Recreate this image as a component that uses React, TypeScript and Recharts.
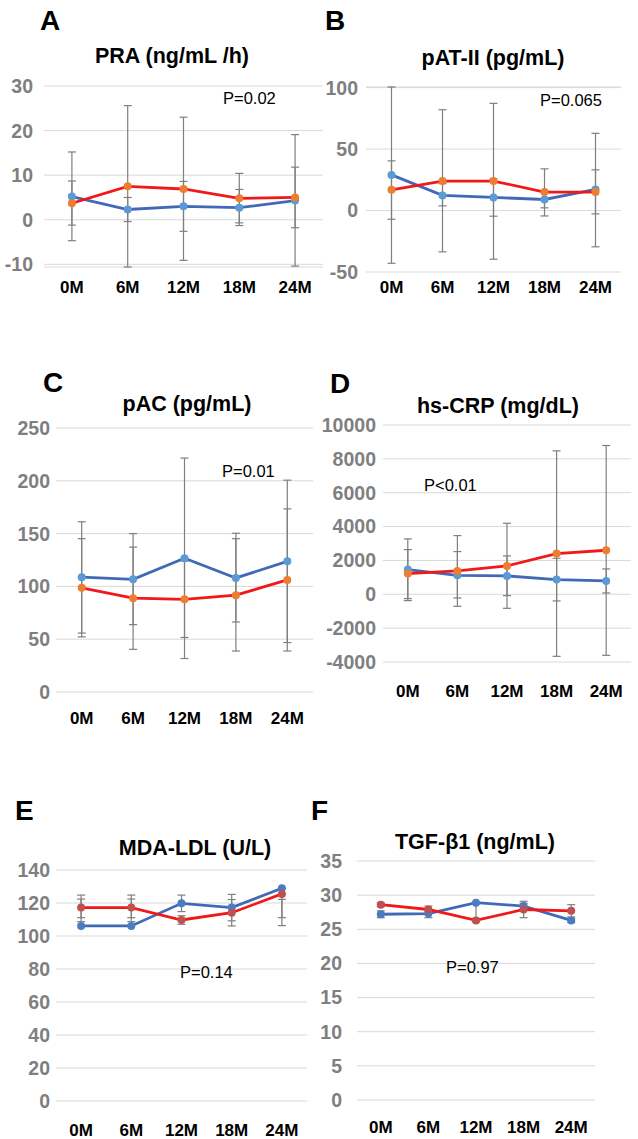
import React from "react";
import { LineChart, Line, XAxis, YAxis, CartesianGrid, ErrorBar } from "recharts";

const months = ["0M", "6M", "12M", "18M", "24M"];

// A: PRA (ng/mL/h)
const praBlue = [5.2, 2.3, 3.0, 2.7, 4.3];
const praRed = [3.7, 7.5, 6.9, 4.8, 5.0];
const praBlueLow = [-4.7, -0.4, -2.6, -1.3, -10.4];
const praBlueHigh = [15.2, 5.0, 8.6, 6.8, 19.1];
const praRedLow = [-1.2, -10.6, -9.1, -0.7, -1.8];
const praRedHigh = [8.7, 25.6, 23.0, 10.4, 11.8];
const praTicks = [-10, 0, 10, 20, 30];

// B: pAT-II (pg/mL)
const patBlue = [29.0, 12.3, 10.7, 9.0, 17.2];
const patRed = [16.9, 24.0, 24.0, 15.0, 15.0];
const patBlueLow = [-42.9, 3.8, -4.6, 2.2, -29.5];
const patBlueHigh = [100.5, 21.9, 26.0, 15.8, 62.8];
const patRedLow = [-7.1, -33.6, -39.6, -4.4, -2.7];
const patRedHigh = [40.4, 82.0, 87.2, 33.9, 33.1];
const patTicks = [-50, 0, 50, 100];

// C: pAC (pg/mL)
const pacBlue = [108.7, 106.7, 126.6, 108.0, 123.7];
const pacRed = [98.7, 88.8, 87.8, 91.7, 106.1];
const pacBlueLow = [55.8, 63.8, 31.7, 66.3, 46.8];
const pacBlueHigh = [161.2, 150.0, 221.5, 150.3, 200.6];
const pacRedLow = [52.2, 40.4, 51.6, 38.8, 38.8];
const pacRedHigh = [145.2, 137.2, 124.0, 145.2, 173.4];
const pacTicks = [0, 50, 100, 150, 200, 250];

// D: hs-CRP (mg/dL)
const crpBlue = [1458, 1123, 1084, 867, 788];
const crpRed = [1222, 1379, 1675, 2404, 2601];
const crpBlueLow = [-374, -217, -79, -394, 79];
const crpBlueHigh = [3271, 2522, 2266, 2128, 1498];
const crpRedLow = [-256, -709, -828, -3665, -3606];
const crpRedHigh = [2640, 3468, 4197, 8473, 8788];
const crpTicks = [-4000, -2000, 0, 2000, 4000, 6000, 8000, 10000];

// E: MDA-LDL (U/L)
const mdaBlue = [106.1, 106.1, 119.8, 117.2, 128.9];
const mdaRed = [117.2, 117.2, 109.7, 114.1, 125.5];
const mdaBlueLow = [111.1, 111.1, 114.8, 109.2, 111.1];
const mdaBlueHigh = [122.4, 122.4, 124.8, 125.2, 122.2];
const mdaRedLow = [108.7, 108.7, 107.1, 106.1, 106.3];
const mdaRedHigh = [124.8, 124.8, 112.3, 122.1, 125.5];
const mdaTicks = [0, 20, 40, 60, 80, 100, 120, 140];

// F: TGF-β1 (ng/mL)
const tgfBlue = [27.2, 27.3, 28.9, 28.4, 26.3];
const tgfRed = [28.6, 27.9, 26.3, 27.9, 27.7];
const tgfBlueLow = [26.7, 26.7, 26.4, 28.0, 26.0];
const tgfBlueHigh = [27.7, 27.9, 28.9, 28.8, 26.6];
const tgfRedLow = [28.3, 27.6, 26.1, 26.7, 26.8];
const tgfRedHigh = [28.9, 28.4, 26.6, 29.1, 28.6];
const tgfTicks = [0, 5, 10, 15, 20, 25, 30, 35];

const FONT = "'Liberation Sans', Arial, Helvetica, sans-serif";
const BLUE_LINE = "#4169b8";
const RED_LINE = "#f01818";

const buildRows = (blue, red, bLow, bHigh, rLow, rHigh) =>
  months.map((m, i) => ({
    month: m,
    blue: blue[i],
    red: red[i],
    blueErr: [blue[i] - bLow[i], bHigh[i] - blue[i]],
    redErr: [red[i] - rLow[i], rHigh[i] - red[i]],
  }));

const panels = [
  {
    letter: "A", title: "PRA (ng/mL /h)", p: "P=0.02",
    rows: buildRows(praBlue, praRed, praBlueLow, praBlueHigh, praRedLow, praRedHigh),
    ticks: praTicks, x0: 0, plotLeft: 44, plotRight: 323, plotTop: 86, plotBottom: 267,
    yGap: 11, xGap: 14, letterX: 40, letterY: 30, titleX: 172, titleY: 63, pX: 223, pY: 104,
    blueDot: "#5b9bd5", redDot: "#ed7d31",
  },
  {
    letter: "B", title: "pAT-II (pg/mL)", p: "P=0.065",
    rows: buildRows(patBlue, patRed, patBlueLow, patBlueHigh, patRedLow, patRedHigh),
    ticks: patTicks, x0: 318, plotLeft: 366, plotRight: 621, plotTop: 87, plotBottom: 272,
    yGap: 8, xGap: 9, letterX: 325, letterY: 30, titleX: 493, titleY: 65, pX: 540, pY: 106,
    blueDot: "#5b9bd5", redDot: "#ed7d31",
  },
  {
    letter: "C", title: "pAC (pg/mL)", p: "P=0.01",
    rows: buildRows(pacBlue, pacRed, pacBlueLow, pacBlueHigh, pacRedLow, pacRedHigh),
    ticks: pacTicks, x0: 0, plotLeft: 56, plotRight: 313, plotTop: 428, plotBottom: 692,
    yGap: 6, xGap: 20, letterX: 43, letterY: 392, titleX: 187, titleY: 411, pX: 222, pY: 477,
    blueDot: "#5b9bd5", redDot: "#ed7d31",
  },
  {
    letter: "D", title: "hs-CRP (mg/dL)", p: "P<0.01",
    rows: buildRows(crpBlue, crpRed, crpBlueLow, crpBlueHigh, crpRedLow, crpRedHigh),
    ticks: crpTicks, x0: 318, plotLeft: 383, plotRight: 631, plotTop: 425, plotBottom: 662,
    yGap: 7, xGap: 23, letterX: 330, letterY: 393, titleX: 498, titleY: 413, pX: 424, pY: 491,
    blueDot: "#5b9bd5", redDot: "#ed7d31",
  },
  {
    letter: "E", title: "MDA-LDL (U/L)", p: "P=0.14",
    rows: buildRows(mdaBlue, mdaRed, mdaBlueLow, mdaBlueHigh, mdaRedLow, mdaRedHigh),
    ticks: mdaTicks, x0: 0, plotLeft: 56, plotRight: 307, plotTop: 870, plotBottom: 1101,
    yGap: 6, xGap: 23, letterX: 15, letterY: 820, titleX: 195, titleY: 855, pX: 180, pY: 978,
    blueDot: "#4a7cc4", redDot: "#c0504d",
  },
  {
    letter: "F", title: "TGF-β1 (ng/mL)", p: "P=0.97",
    rows: buildRows(tgfBlue, tgfRed, tgfBlueLow, tgfBlueHigh, tgfRedLow, tgfRedHigh),
    ticks: tgfTicks, x0: 318, plotLeft: 357, plotRight: 595, plotTop: 861, plotBottom: 1100,
    yGap: 15, xGap: 21, letterX: 311, letterY: 820, titleX: 475, titleY: 849, pX: 446, pY: 973,
    blueDot: "#4a7cc4", redDot: "#c0504d",
  },
];

const Panel = ({ cfg }) => {
  const top = cfg.plotTop - 10;
  const width = cfg.plotRight - cfg.x0 + 5;
  const height = cfg.plotBottom - cfg.plotTop + 10 + 45;
  const half = (cfg.plotRight - cfg.plotLeft) / 10;
  const domain = [cfg.ticks[0], cfg.ticks[cfg.ticks.length - 1]];
  return (
    <div style={{ position: "absolute", left: cfg.x0, top }}>
      <LineChart width={width} height={height} data={cfg.rows}
        margin={{ top: 10, right: 5, left: 0, bottom: 0 }}>
        <CartesianGrid vertical={false} stroke="#d9d9d9" />
        <XAxis dataKey="month" axisLine={false} tickLine={false} tickSize={0}
          tickMargin={cfg.xGap} height={45} interval={0}
          padding={{ left: half, right: half }}
          tick={{ fill: "#000", fontSize: 17, fontWeight: 700, fontFamily: FONT }} />
        <YAxis type="number" domain={domain} ticks={cfg.ticks} interval={0}
          width={cfg.plotLeft - cfg.x0} axisLine={false} tickLine={false} tickSize={0}
          tickMargin={cfg.yGap}
          tick={{ fill: "#7f7f7f", fontSize: 19.5, fontWeight: 700, fontFamily: FONT }} />
        {/* error bars drawn first so they sit behind the lines */}
        <Line dataKey="blue" stroke="none" dot={false} activeDot={false} isAnimationActive={false}>
          <ErrorBar dataKey="blueErr" direction="y" width={4} stroke="#7f7f7f" strokeWidth={1.2} />
        </Line>
        <Line dataKey="red" stroke="none" dot={false} activeDot={false} isAnimationActive={false}>
          <ErrorBar dataKey="redErr" direction="y" width={4} stroke="#7f7f7f" strokeWidth={1.2} />
        </Line>
        <Line dataKey="blue" stroke={BLUE_LINE} strokeWidth={2.8} isAnimationActive={false}
          dot={{ r: 4, fill: cfg.blueDot, stroke: cfg.blueDot, strokeWidth: 0 }} activeDot={false} />
        <Line dataKey="red" stroke={RED_LINE} strokeWidth={2.8} isAnimationActive={false}
          dot={{ r: 4, fill: cfg.redDot, stroke: cfg.redDot, strokeWidth: 0 }} activeDot={false} />
      </LineChart>
    </div>
  );
};

export default function App() {
  return (
    <div style={{ position: "absolute", left: 0, top: 0, width: 638, height: 1139,
      background: "#fff", overflow: "hidden", fontFamily: FONT }}>
      {panels.map((cfg) => <Panel key={cfg.letter} cfg={cfg} />)}
      <svg width={638} height={1139} style={{ position: "absolute", left: 0, top: 0, pointerEvents: "none" }}>
        {panels.map((cfg) => (
          <g key={cfg.letter} fontFamily={FONT}>
            <text x={cfg.letterX} y={cfg.letterY} fontSize={28} fontWeight={700} fill="#000">{cfg.letter}</text>
            <text x={cfg.titleX} y={cfg.titleY} fontSize={21.5} fontWeight={700} fill="#000" textAnchor="middle">{cfg.title}</text>
            <text x={cfg.pX} y={cfg.pY} fontSize={16.5} fill="#000">{cfg.p}</text>
          </g>
        ))}
      </svg>
    </div>
  );
}
